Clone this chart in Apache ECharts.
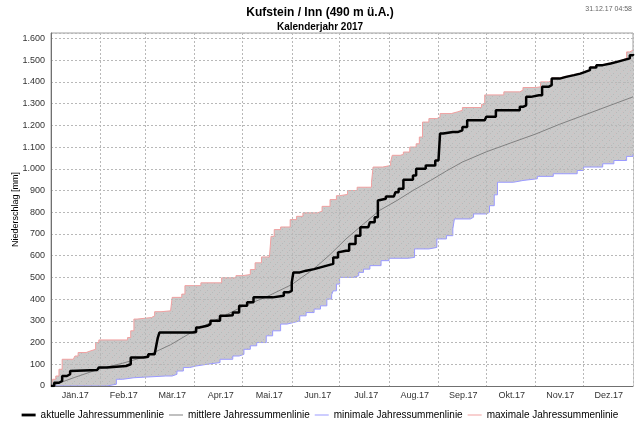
<!DOCTYPE html>
<html><head><meta charset="utf-8">
<script src="https://cdn.jsdelivr.net/npm/echarts@6/dist/echarts.min.js"></script>
<style>html,body{margin:0;padding:0;background:#fff}#c{width:640px;height:423px}</style>
</head><body><div id="c"></div>
<script>
// Month tick labels (centered under each month)
const monthLabels = ['Jän.17','Feb.17','Mär.17','Apr.17','Mai.17','Jun.17','Jul.17','Aug.17','Sep.17','Okt.17','Nov.17','Dez.17'];
const legendNames = ['aktuelle Jahressummenlinie','mittlere Jahressummenlinie','minimale Jahressummenlinie','maximale Jahressummenlinie'];

// [day of year, cumulative precipitation mm]
const aktuell = [[0,0],[2,15],[5,23],[7,46],[10,54],[12,69],[13,74],[29,74],[30,85],[35,92],[47,100],[50,131],[58,135],[61,146],[65,154],[66,185],[67,223],[68,246],[89,249],[91,269],[93,277],[98,285],[100,300],[106,323],[110,326],[114,338],[118,369],[123,385],[127,408],[139,415],[146,431],[149,438],[151,477],[152,523],[156,531],[160,538],[165,546],[169,554],[173,562],[177,592],[180,615],[181,623],[185,623],[187,654],[191,692],[194,731],[199,731],[200,754],[203,777],[205,854],[206,862],[210,872],[215,872],[216,892],[218,908],[221,949],[225,949],[227,969],[229,1000],[233,1000],[235,1015],[238,1015],[241,1038],[243,1040],[244,1162],[246,1169],[252,1169],[255,1177],[258,1192],[261,1223],[272,1226],[273,1240],[279,1269],[292,1269],[294,1285],[296,1292],[298,1331],[301,1338],[306,1338],[308,1377],[312,1385],[314,1415],[319,1423],[323,1431],[328,1438],[332,1446],[335,1454],[338,1466],[342,1477],[346,1485],[351,1492],[355,1500],[359,1508],[363,1523],[365,1528]];

const mittel = [[0,0],[15,40],[31,80],[45,105],[59,135],[75,190],[90,255],[105,310],[120,365],[135,410],[151,467],[165,540],[175,605],[185,677],[196,746],[206,808],[217,854],[227,900],[238,946],[248,990],[258,1031],[273,1078],[288,1118],[304,1160],[319,1205],[334,1246],[350,1290],[365,1331]];

const minimum = [[0,0],[33,0],[35,8],[41,31],[45,38],[52,46],[72,46],[76,54],[79,69],[83,85],[87,92],[91,100],[98,108],[106,123],[114,138],[118,146],[121,169],[125,185],[129,200],[135,231],[139,254],[144,285],[148,292],[152,300],[156,323],[160,338],[165,354],[169,369],[173,400],[176,420],[177,438],[179,469],[181,500],[190,508],[193,523],[196,538],[200,554],[207,577],[212,588],[224,592],[228,631],[237,638],[242,677],[248,692],[252,723],[253,769],[263,777],[265,792],[273,800],[275,830],[278,880],[280,938],[290,946],[296,954],[305,965],[315,977],[330,992],[334,1008],[346,1023],[353,1038],[361,1057],[365,1068]];

const maximum = [[0,0],[1,31],[3,46],[5,77],[7,123],[14,126],[15,138],[17,154],[22,162],[25,169],[28,200],[30,212],[48,223],[50,254],[52,308],[54,315],[63,323],[65,342],[69,346],[75,354],[76,408],[82,423],[84,462],[94,475],[107,498],[116,508],[120,513],[125,536],[128,567],[132,594],[137,600],[138,689],[140,720],[144,732],[150,766],[154,781],[158,797],[167,804],[170,827],[175,858],[179,876],[181,882],[186,900],[192,915],[201,938],[202,1008],[208,1015],[213,1031],[214,1062],[219,1066],[221,1077],[225,1100],[229,1115],[231,1146],[233,1215],[237,1231],[242,1238],[244,1254],[251,1262],[255,1269],[258,1282],[270,1297],[272,1340],[284,1354],[294,1362],[296,1374],[304,1377],[307,1400],[312,1405],[314,1418],[319,1425],[323,1433],[328,1440],[332,1448],[335,1456],[338,1468],[342,1479],[346,1487],[351,1494],[355,1502],[359,1510],[361,1538],[363,1546],[365,1546]];

const t0 = new Date(2017,0,1).getTime();
const t1 = new Date(2018,0,1).getTime();
const toTime = arr => arr.map(p => [t0 + p[0]*86400000, p[1]]);

// fine stipple texture for the min–max band
const tex = document.createElement('canvas');
tex.width = 7; tex.height = 7;
const g = tex.getContext('2d');
g.fillStyle = '#c9c9c9'; g.fillRect(0,0,7,7);
g.fillStyle = '#b9b9b9'; g.fillRect(0,0,1,1); g.fillRect(4,3,1,1); g.fillRect(2,5,1,1);
g.fillStyle = '#d2c2c2'; g.fillRect(5,1,1,1); g.fillRect(1,3,1,1); g.fillRect(6,6,1,1);

const fmtY = v => v >= 1000 ? Math.floor(v/1000) + '.' + String(v % 1000).padStart(3,'0') : String(v);
const FONT = 'Liberation Sans';
const lineIcon = 'path://M0,0M0,4M0,1.5H14V2.5H0Z';
const thickIcon = 'path://M0,0M0,4M0,0.6H14V3.4H0Z';
const chart = echarts.init(document.getElementById('c'));
chart.setOption({
  animation: false,
  backgroundColor: '#fff',
  textStyle: { fontFamily: FONT },
  title: [
    { text: 'Kufstein / Inn (490 m ü.A.)', subtext: 'Kalenderjahr 2017', left: 'center', top: 2, itemGap: 3,
      textStyle: { fontFamily: FONT, fontSize: 12, fontWeight: 'bold', color: '#000' },
      subtextStyle: { fontFamily: FONT, fontSize: 10, fontWeight: 'bold', color: '#000' } },
    { text: '31.12.17 04:58', right: 3, top: 1, textStyle: { fontFamily: FONT, fontSize: 7, fontWeight: 'normal', color: '#666' } }
  ],
  legend: {
    data: [
      { name: legendNames[0], icon: thickIcon },
      { name: legendNames[1], icon: lineIcon },
      { name: legendNames[2], icon: lineIcon },
      { name: legendNames[3], icon: lineIcon }
    ],
    top: 405, left: 'center', itemWidth: 14, itemHeight: 4, itemGap: 5,
    textStyle: { fontFamily: FONT, fontSize: 10, color: '#000' }
  },
  grid: { left: 51, right: 7, top: 33, bottom: 37, containLabel: false, outerBoundsMode: 'none',
    show: true, borderColor: '#a0a0a0', borderWidth: 1, backgroundColor: '#fff' },
  xAxis: [
    { type: 'time', min: t0, max: t1, z: 3, splitNumber: 12,
      minInterval: 28*86400000, maxInterval: 31*86400000,
      axisLine: { show: true, lineStyle: { color: '#707070' } }, axisTick: { show: false }, axisLabel: { show: false },
      splitLine: { show: true, lineStyle: { color: '#b8b8b8', type: [2,2], width: 1 } } },
    { type: 'category', data: monthLabels, boundaryGap: true, position: 'bottom', z: 3,
      axisLine: { show: false }, axisTick: { show: false }, splitLine: { show: false },
      axisLabel: { fontFamily: FONT, fontSize: 9, color: '#333', margin: 5 } }
  ],
  yAxis: {
    type: 'value', min: 0, max: 1625, interval: 100, z: 3,
    name: 'Niederschlag [mm]', nameLocation: 'middle', nameGap: 31, nameRotate: 90, nameMoveOverlap: false,
    nameTextStyle: { fontFamily: FONT, fontSize: 9, color: '#000' },
    axisLine: { show: true, lineStyle: { color: '#707070' } }, axisTick: { show: false },
    axisLabel: { fontFamily: FONT, fontSize: 9, color: '#333', margin: 6, showMaxLabel: false, formatter: fmtY },
    splitLine: { show: true, lineStyle: { color: '#b8b8b8', type: [2,2], width: 1 } }
  },
  series: [
    { name: legendNames[3], type: 'line', step: 'end', data: toTime(maximum), symbol: 'none', z: 1,
      lineStyle: { color: '#f0a0a0', width: 1 }, itemStyle: { color: '#f0a0a0' },
      areaStyle: { color: { image: tex, repeat: 'repeat' }, opacity: 1, origin: 'start' } },
    { name: legendNames[2], type: 'line', step: 'end', data: toTime(minimum), symbol: 'none', z: 2,
      lineStyle: { color: '#9a9aff', width: 1 }, itemStyle: { color: '#9a9aff' },
      areaStyle: { color: '#ffffff', opacity: 1, origin: 'start' } },
    { name: legendNames[1], type: 'line', data: toTime(mittel), symbol: 'none', z: 4,
      lineStyle: { color: '#808080', width: 1 }, itemStyle: { color: '#808080' } },
    { name: legendNames[0], type: 'line', step: 'end', data: toTime(aktuell), symbol: 'none', z: 5,
      lineStyle: { color: '#000', width: 2.5 }, itemStyle: { color: '#000' } }
  ]
});
</script></body></html>
